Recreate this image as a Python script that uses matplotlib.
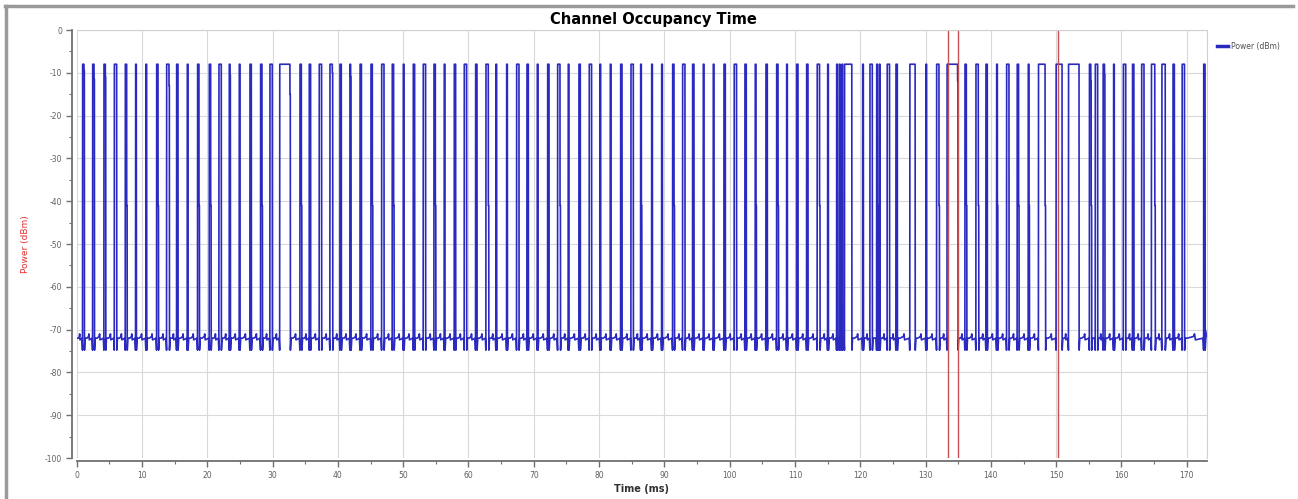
import numpy as np
import matplotlib
matplotlib.use("Agg")
import matplotlib.pyplot as plt
from matplotlib.ticker import MultipleLocator
from matplotlib.lines import Line2D

plt.rcParams['axes.unicode_minus'] = False

# 脉冲起始时间 (ms) 与宽度 (ms)
pulse_start = [0.91, 2.45, 4.18, 5.77, 7.45, 9.03, 10.61, 12.25, 13.78, 15.31,
               16.94, 18.52, 20.31, 21.79, 23.37, 24.90, 26.54, 28.17, 29.60, 31.10,
               34.20, 35.62, 37.15, 38.79, 40.32, 41.85, 43.40, 45.07, 46.71, 48.33,
               50.02, 51.55, 53.08, 54.72, 56.29, 57.83, 59.36, 61.10, 62.68, 64.21,
               65.85, 67.38, 68.96, 70.54, 72.13, 73.66, 75.28, 76.92, 78.50, 80.14,
               81.72, 83.31, 84.89, 86.37, 88.06, 89.59, 91.27, 92.80, 94.33, 95.96,
               97.49, 99.13, 100.70, 102.34, 103.92, 105.56, 107.20, 108.73, 110.26, 111.79,
               113.41, 115.01, 116.39, 116.80, 117.20, 117.60, 120.37, 121.49, 122.52, 122.92,
               124.13, 125.47, 127.60, 130.06, 131.70, 133.30, 136.04, 137.72, 139.25, 140.89,
               142.42, 144.04, 145.73, 147.30, 150.00, 151.90, 155.10, 156.00, 157.20, 158.80,
               160.30, 161.70, 163.10, 164.60, 166.20, 167.90, 169.30, 172.60]
pulse_width = [0.2, 0.2, 0.2, 0.35, 0.2, 0.1, 0.1, 0.2, 0.35, 0.2,
               0.1, 0.2, 0.2, 0.35, 0.1, 0.1, 0.2, 0.2, 0.35, 1.55,
               0.2, 0.2, 0.35, 0.35, 0.2, 0.1, 0.2, 0.2, 0.35, 0.2,
               0.1, 0.2, 0.35, 0.2, 0.1, 0.2, 0.35, 0.2, 0.35, 0.1,
               0.1, 0.35, 0.2, 0.1, 0.2, 0.35, 0.1, 0.2, 0.35, 0.1,
               0.1, 0.2, 0.35, 0.1, 0.1, 0.1, 0.2, 0.35, 0.2, 0.1,
               0.1, 0.2, 0.35, 0.2, 0.1, 0.2, 0.2, 0.1, 0.2, 0.2,
               0.35, 0.1, 0.1, 0.1, 0.1, 1.10, 0.1, 0.35, 0.1, 0.1,
               0.35, 0.2, 0.8, 0.1, 0.35, 1.6, 0.2, 0.35, 0.2, 0.1,
               0.35, 0.2, 0.1, 1.0, 0.9, 1.6, 0.2, 0.35, 0.2, 0.1,
               0.35, 0.2, 0.35, 0.5, 0.5, 0.2, 0.35, 0.2]

# 下降沿上停在 -41 dBm 附近的脉冲
stub_pulses = [7.45, 12.25, 18.52, 20.31, 28.17, 34.20, 45.07, 48.33, 54.72, 62.68,
               73.66, 86.37, 91.27, 103.92, 107.20, 113.41, 122.52, 131.70, 136.04, 137.72,
               140.89, 144.04, 145.73, 147.30, 155.10, 164.60]
stub_level = -41.0

# 一侧只到 -10 ~ -13 dBm 的脉冲
shoulder_t = [0.91, 2.45, 4.18, 13.78, 23.37, 31.10, 38.79, 41.85, 133.30, 155.10, 157.20]
shoulder_db = [-9.5, -11.5, -11.0, -13.0, -10.5, -15.0, -10.0, -11.0, -12.0, -12.0, -10.5]

# 光标（红线）位置
cursor_x = [133.4, 135.0, 150.35]

# 电平
top_db = -8.0
base_db = -72.0
dip_db = -74.8
end_db = -70.0

# 拼出轨迹
t_pts = [0.0]
y_pts = [base_db]
prev_end = 0.0
for ts, w in zip(pulse_start, pulse_width):
    gap = ts - prev_end
    if gap > 0.6:
        t_pts += [prev_end + 0.3, prev_end + gap * 0.45, prev_end + gap * 0.5, prev_end + gap * 0.55]
        y_pts += [base_db, -71.6, -71.0, -72.4]
    t_pts += [ts - 0.1, ts - 0.02, ts, ts + w]
    y_pts += [base_db, dip_db, top_db, top_db]
    te = ts + w
    if ts in shoulder_t:
        sh = shoulder_db[shoulder_t.index(ts)]
        t_pts += [te + 0.01, te + 0.06]
        y_pts += [sh, sh]
        te += 0.06
    if ts in stub_pulses:
        t_pts += [te + 0.01, te + 0.07]
        y_pts += [stub_level, stub_level]
        te += 0.07
    t_pts += [te + 0.02, te + 0.12]
    y_pts += [dip_db, base_db]
    prev_end = te + 0.12
t_pts += [173.2]
y_pts += [end_db]

fig = plt.figure(figsize=(12.98, 4.99), dpi=100)
ax = fig.add_axes([76.7 / 1298, 1 - 458 / 499, (1207 - 76.7) / 1298, (458 - 30) / 499])

ax.plot(t_pts, y_pts, color='#2a2ac0', lw=1.2, label='Power (dBm)')
for cx in cursor_x:
    ax.axvline(cx, color='#c85050', lw=1.0)

ax.set_xlim(0, 173.1)
ax.set_ylim(-100, 0)
ax.xaxis.set_major_locator(MultipleLocator(10))
ax.xaxis.set_minor_locator(MultipleLocator(5))
ax.yaxis.set_major_locator(MultipleLocator(10))
ax.yaxis.set_minor_locator(MultipleLocator(5))
ax.grid(True, which='major', color='#d9d9d9', lw=0.8)
ax.set_axisbelow(True)

ax.spines['left'].set_position(('outward', 3.5))
ax.spines['bottom'].set_position(('outward', 2))
for s in ['left', 'bottom']:
    ax.spines[s].set_color('#707070')
    ax.spines[s].set_linewidth(1.3)
for s in ['top', 'right']:
    ax.spines[s].set_color('#d0d0d0')
    ax.spines[s].set_linewidth(0.8)
ax.tick_params(which='major', direction='out', length=4, width=1, color='#707070',
               labelsize=5.5, labelcolor='#606060', pad=3)
ax.tick_params(which='minor', direction='out', length=2.5, width=0.8, color='#707070')

ax.set_title('Channel Occupancy Time', fontsize=10.5, fontweight='bold', pad=4, x=0.51)
ax.set_xlabel('Time (ms)', fontsize=7, fontweight='bold', color='#303030', labelpad=3)
ax.set_ylabel('Power (dBm)', fontsize=6.5, color='#e03030')
ax.yaxis.set_label_coords(-0.041, 0.5)

handle = Line2D([], [], color='#2a2ac0', lw=2.5)
fig.legend([handle], ['Power (dBm)'], loc='upper left', bbox_to_anchor=(1210 / 1298, 1 - 35 / 499),
           frameon=False, fontsize=5.5, handlelength=1.4, handletextpad=0.5, labelcolor='#505050')

# 外框
fig.add_artist(Line2D([5 / 1298, 1293 / 1298], [1 - 6 / 499, 1 - 6 / 499], color='#9a9a9a', lw=2.5))
fig.add_artist(Line2D([6 / 1298, 6 / 1298], [0, 1 - 6 / 499], color='#9a9a9a', lw=2.5))

fig.savefig('out.png', dpi=100)
